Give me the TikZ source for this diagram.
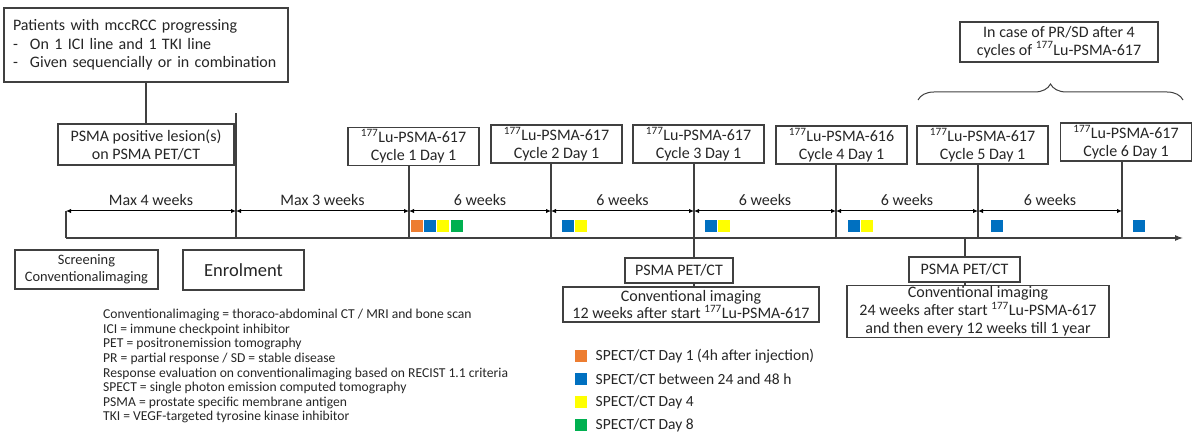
\documentclass[tikz,border=0pt]{standalone}
\usepackage{fontspec}
\usepackage{xcolor}
\setmainfont{Carlito}
\usetikzlibrary{arrows.meta, decorations.pathreplacing}

\definecolor{linegray}{HTML}{404040}
\definecolor{txtgray}{HTML}{262626}
\definecolor{sporange}{HTML}{ED7D31}
\definecolor{spblue}{HTML}{0070C0}
\definecolor{spyellow}{HTML}{FFFF00}
\definecolor{spgreen}{HTML}{00B050}

\newcommand{\lu}{\textsuperscript{177}Lu-PSMA-617}

\tikzset{
  box/.style={draw=linegray, line width=1.1pt, fill=white, align=center, inner sep=1pt,
    text=txtgray, font=\fontsize{16}{18}\selectfont},
  cyclebox/.style={box, minimum width=131pt, minimum height=38pt},
  tickline/.style={draw=linegray, line width=1.1pt},
  span/.style={{Latex[length=5pt,width=4.5pt]}-{Latex[length=5pt,width=4.5pt]}, line width=1pt, draw=black},
  spanlabel/.style={text=txtgray, font=\fontsize{16}{18}\selectfont},
  sq/.style={minimum size=12pt, inner sep=0pt, draw=none}
}

\begin{document}
\begin{tikzpicture}[x=1pt, y=-1pt]
        \useasboundingbox (0,0) rectangle (1200,443);

        % Inclusion
        \node[box, minimum width=284pt, minimum height=74pt, text width=266pt, align=left, inner xsep=9pt,
          font=\fontsize{16}{18.5}\selectfont] (patients) at (146,45)
          {Patients with mccRCC progressing\\
           \makebox[17pt][l]{-}On 1 ICI line and 1 TKI line\\
           \makebox[17pt][l]{-}Given sequencially or in combination};
        \node[box, minimum width=176pt, minimum height=41pt] (lesion) at (146,144.5)
          {PSMA positive lesion(s)\\on PSMA PET/CT};
        \draw[tickline] (patients.south) -- (lesion.north);

        % Cycles
        \node[cyclebox] (cyc1) at (413.5,146.5) {\lu\\Cycle 1 Day 1};
        \node[cyclebox] (cyc2) at (556.5,144) {\lu\\Cycle 2 Day 1};
        \node[cyclebox] (cyc3) at (698.5,144) {\lu\\Cycle 3 Day 1};
        \node[cyclebox] (cyc4) at (841.5,145) {\textsuperscript{177}Lu-PSMA-616\\Cycle 4 Day 1};
        \node[cyclebox] (cyc5) at (982.5,145) {\lu\\Cycle 5 Day 1};
        \node[cyclebox] (cyc6) at (1126,142) {\lu\\Cycle 6 Day 1};

        % Time axis
        \coordinate (t0) at (66,238);
        \coordinate (tenr) at (236,238);
        \coordinate (t1) at (409,238);
        \coordinate (t2) at (551,238);
        \coordinate (t3) at (694,238);
        \coordinate (t4) at (836,238);
        \coordinate (t5) at (978,238);
        \coordinate (t6) at (1122,238);
        \coordinate (tend) at (1183,238);
        \draw[tickline, -{Latex[length=8pt,width=6pt]}] (t0) -- (tend);
        \draw[tickline] (t0) -- ++(0,-27);
        \draw[tickline] (tenr) -- ++(0,-125);
        \foreach \i in {1,...,6}
          \draw[tickline] (cyc\i.south -| t\i) -- (t\i);

        % Durations
        \draw[span] ([yshift=27pt]t0) -- ([yshift=27pt]tenr) node[midway, above=2pt, spanlabel] {Max 4 weeks};
        \draw[span] ([yshift=27pt]tenr) -- ([yshift=27pt]t1) node[midway, above=2pt, spanlabel] {Max 3 weeks};
        \foreach \a/\b in {t1/t2, t2/t3, t3/t4, t4/t5, t5/t6}
          \draw[span] ([yshift=27pt]\a) -- ([yshift=27pt]\b) node[midway, above=2pt, spanlabel] {6 weeks};

        % SPECT/CT squares
        \foreach \x/\c in {417/sporange, 430/spblue, 443/spyellow, 457/spgreen,
                           567.5/spblue, 580.5/spyellow, 710.5/spblue, 723.5/spyellow,
                           853.5/spblue, 866.5/spyellow, 997/spblue, 1138.5/spblue}
          \node[sq, fill=\c] at (\x,226) {};

        % Screening and enrolment
        \node[box, minimum width=143pt, minimum height=39pt, font=\fontsize{14.4}{17}\selectfont] (screen) at (86.5,269.5)
          {Screening\\Conventionalimaging};
        \node[box, minimum width=121pt, minimum height=40pt, font=\fontsize{18.5}{20}\selectfont] (enrol) at (243.5,270) {Enrolment};

        % Imaging after cycles
        \node[box, minimum width=108pt, minimum height=25pt] (pet1) at (679,270.5) {PSMA PET/CT};
        \node[box, minimum width=256pt, minimum height=35pt, font=\fontsize{16}{17}\selectfont] (conv1) at (691,304.5)
          {Conventional imaging\\12 weeks after start \lu};
        \draw[tickline] (t3) -- (t3 |- pet1.north);
        \draw[tickline] (t3 |- pet1.south) -- (t3 |- conv1.north);

        \coordinate (tpet) at (965,238);
        \node[box, minimum width=111pt, minimum height=25pt] (pet2) at (964.5,269.5) {PSMA PET/CT};
        \node[box, minimum width=262pt, minimum height=51pt, font=\fontsize{16}{18}\selectfont] (conv2) at (978,311.5)
          {Conventional imaging\\24 weeks after start \lu\\and then every 12 weeks till 1 year};
        \draw[tickline] (tpet) -- (tpet |- pet2.north);
        \draw[tickline] (tpet |- pet2.south) -- (tpet |- conv2.north);

        % Extension
        \node[box, minimum width=198pt, minimum height=40pt] (extra) at (1059,42)
          {In case of PR/SD after 4\\cycles of \lu};
        \coordinate (brl) at (918,100);
        \coordinate (brr) at (1183,100);
        \draw[tickline, line width=1pt, decorate, decoration={brace, amplitude=16pt, aspect=0.5}] (brl) -- (brr);

        % Abbreviations
        \node[anchor=north west, align=left, inner sep=0pt, text=txtgray, font=\fontsize{13.6}{14.6}\selectfont] (abbr) at (103,309)
          {Conventionalimaging = thoraco-abdominal CT / MRI and bone scan\\
           ICI = immune checkpoint inhibitor\\
           PET = positronemission tomography\\
           PR = partial response / SD = stable disease\\
           Response evaluation on conventionalimaging based on RECIST 1.1 criteria\\
           SPECT = single photon emission computed tomography\\
           PSMA = prostate specific membrane antigen\\
           TKI = VEGF-targeted tyrosine kinase inhibitor};

        % Legend
        \foreach \y/\c/\t in {356/sporange/{SPECT/CT Day 1 (4h after injection)},
                              379/spblue/{SPECT/CT between 24 and 48 h},
                              402/spyellow/{SPECT/CT Day 4},
                              425/spgreen/{SPECT/CT Day 8}} {
          \node[sq, fill=\c] (key) at (581,\y) {};
          \node[anchor=west, text=txtgray, font=\fontsize{15.5}{17}\selectfont] at ([xshift=5pt]key.east) {\t};
        }
    \end{tikzpicture}
\end{document}
